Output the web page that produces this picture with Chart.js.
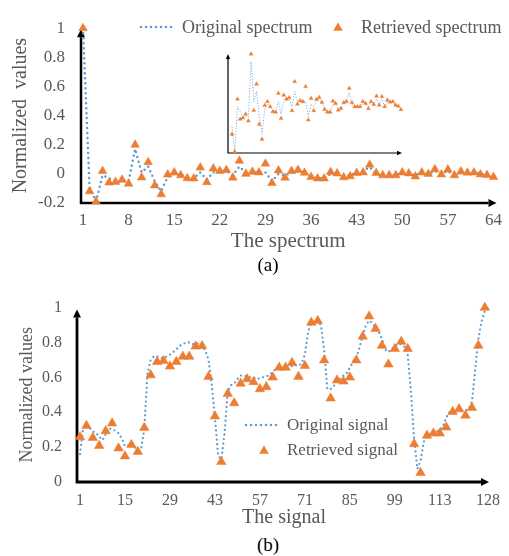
<!DOCTYPE html>
<html>
<head>
<meta charset="utf-8">
<script src="https://cdn.jsdelivr.net/npm/chart.js@4.4.0/dist/chart.umd.min.js"></script>
<style>
  body { margin: 0; background: #fff; }
  #wrap { position: relative; width: 509px; height: 556px; font-family: 'Liberation Serif', 'Times New Roman', serif; }
  canvas { position: absolute; }
  .cap { position: absolute; width: 40px; text-align: center; font-size: 19px; color: #000; line-height: 20px; }
</style>
</head>
<body>
<div id="wrap">
  <canvas id="spec" width="509" height="258" style="left:0;top:0"></canvas>
  <canvas id="inset" width="190" height="115" style="left:222px;top:45px"></canvas>
  <canvas id="sig" width="509" height="252" style="left:0;top:280px"></canvas>
  <div class="cap" style="left:248px;top:255px">(a)</div>
  <div class="cap" style="left:248px;top:535px">(b)</div>
</div>
<script>
// Spectrum (a)
const spectrumOriginal = [1.0, -0.09, -0.19, -0.01, -0.03, -0.05, -0.05, -0.05, 0.17, 0.01,
  0.05, -0.05, -0.12, -0.02, 0.0, -0.01, -0.03, -0.03, 0.01, -0.04,
  0.01, 0.02, 0.02, -0.01, 0.05, 0.01, 0.01, 0.01, 0.01, -0.05,
  0.0, -0.01, 0.01, 0.02, 0.01, -0.02, -0.03, -0.03, 0.0, 0.0,
  -0.02, -0.01, 0.01, 0.02, 0.045, 0.0, -0.01, -0.01, -0.01, 0.01,
  0.0, -0.01, 0.01, 0.0, 0.02, 0.0, 0.02, -0.01, 0.01, 0.01,
  0.01, 0.0, -0.01, -0.02];
const spectrumRetrieved = [1.0, -0.12, -0.19, 0.02, -0.06, -0.055, -0.04, -0.067, 0.2, -0.025,
  0.08, -0.08, -0.14, -0.005, 0.01, -0.01, -0.03, -0.032, 0.043, -0.057,
  0.036, 0.02, 0.026, -0.026, 0.09, 0.0, 0.014, 0.01, 0.07, -0.063,
  0.023, -0.026, 0.019, 0.027, 0.007, -0.021, -0.032, -0.032, 0.012, 0.003,
  -0.024, -0.017, 0.006, 0.01, 0.063, 0.006, -0.01, -0.01, -0.01, 0.01,
  0.003, -0.018, 0.01, -0.001, 0.032, -0.004, 0.03, -0.01, 0.016, 0.008,
  0.01, -0.004, -0.008, -0.022];
const spectrumTicks = ['1', '8', '15', '22', '29', '36', '43', '50', '57', '64'];

// Signal (b)
const signalOriginal = [0.16, 0.31, 0.33, 0.31, 0.29, 0.28, 0.26, 0.24, 0.275, 0.31,
  0.30, 0.295, 0.28, 0.25, 0.205, 0.21, 0.22, 0.20, 0.18, 0.19,
  0.30, 0.62, 0.70, 0.72, 0.72, 0.71, 0.71, 0.72, 0.73, 0.745,
  0.76, 0.78, 0.79, 0.80, 0.80, 0.79, 0.79, 0.795, 0.78, 0.755,
  0.70, 0.56, 0.37, 0.15, 0.13, 0.28, 0.52, 0.555, 0.565, 0.59,
  0.61, 0.61, 0.605, 0.60, 0.60, 0.59, 0.595, 0.60, 0.605, 0.615,
  0.63, 0.65, 0.655, 0.65, 0.652, 0.66, 0.665, 0.67, 0.666, 0.68,
  0.73, 0.86, 0.92, 0.924, 0.92, 0.90, 0.755, 0.533, 0.533, 0.55,
  0.58, 0.59, 0.61, 0.622, 0.655, 0.69, 0.71, 0.77, 0.84, 0.90,
  0.925, 0.91, 0.885, 0.86, 0.82, 0.76, 0.745, 0.76, 0.78, 0.79,
  0.79, 0.775, 0.73, 0.52, 0.25, 0.075, 0.12, 0.23, 0.27, 0.28,
  0.29, 0.29, 0.30, 0.32, 0.37, 0.40, 0.415, 0.415, 0.41, 0.41,
  0.41, 0.42, 0.46, 0.64, 0.82, 0.92, 0.98, 1.0];
// retrieved samples exist at the odd sample numbers 1, 3, 5 ... 127
const signalRetrieved = [0.258, 0.323, 0.254, 0.208, 0.293, 0.337, 0.194, 0.148, 0.213, 0.174,
  0.311, 0.613, 0.689, 0.695, 0.663, 0.689, 0.719, 0.719, 0.778, 0.78,
  0.604, 0.377, 0.116, 0.506, 0.453, 0.565, 0.59, 0.574, 0.533, 0.545,
  0.60, 0.657, 0.657, 0.684, 0.604, 0.666, 0.915, 0.924, 0.698, 0.48,
  0.583, 0.577, 0.60, 0.698, 0.835, 0.95, 0.879, 0.782, 0.675, 0.764,
  0.805, 0.764, 0.218, 0.053, 0.266, 0.279, 0.279, 0.314, 0.403, 0.418,
  0.382, 0.426, 0.782, 1.0];
const signalTicks = ['1', '15', '29', '43', '57', '71', '85', '99', '113', '128'];

const BLUE = '#5B9BD5';
const ORANGE = '#ED7D31';
const GREY = '#595959';
const FONT = "'Liberation Serif', 'Times New Roman', serif";
Chart.defaults.font.family = FONT;
Chart.defaults.color = GREY;

const spectrumLabels = spectrumOriginal.map((v, i) => String(i + 1));
const signalLabels = signalOriginal.map((v, i) => String(i + 1));
const signalRetrievedFull = signalLabels.map((l, i) => (i % 2 === 0 ? signalRetrieved[i / 2] : null));

function triangle(ctx, x, y, r) {
  ctx.beginPath();
  ctx.moveTo(x, y - r);
  ctx.lineTo(x + r * 0.866, y + r * 0.5);
  ctx.lineTo(x - r * 0.866, y + r * 0.5);
  ctx.closePath();
  ctx.fill();
}

// axis lines with arrow heads
function arrowAxes(o) {
  return {
    id: 'arrowAxes',
    beforeDatasetsDraw(chart) {
      const { ctx, chartArea: a } = chart;
      const x0 = a.left - o.dx, y0 = a.bottom + o.dy;
      const top = a.top + o.topOff, right = a.right + o.rightOff;
      ctx.save();
      ctx.strokeStyle = '#000';
      ctx.fillStyle = '#000';
      ctx.lineWidth = o.w;
      ctx.beginPath();
      ctx.moveTo(x0, y0 + o.w / 2);
      ctx.lineTo(x0, top + o.head);
      ctx.moveTo(x0 - o.w / 2, y0);
      ctx.lineTo(right - o.head, y0);
      ctx.stroke();
      ctx.beginPath();
      ctx.moveTo(x0 - o.half, top + o.head);
      ctx.lineTo(x0, top);
      ctx.lineTo(x0 + o.half, top + o.head);
      ctx.closePath();
      ctx.fill();
      ctx.beginPath();
      ctx.moveTo(right - o.head, y0 - o.half);
      ctx.lineTo(right, y0);
      ctx.lineTo(right - o.head, y0 + o.half);
      ctx.closePath();
      ctx.fill();
      ctx.restore();
    }
  };
}

function legendAt(items, size) {
  return {
    id: 'legendAt',
    afterDraw(chart) {
      const ctx = chart.ctx;
      ctx.save();
      ctx.font = size + 'px ' + FONT;
      ctx.textBaseline = 'middle';
      items.forEach(it => {
        if (it.type === 'line') {
          ctx.strokeStyle = BLUE;
          ctx.lineWidth = 2.5;
          ctx.lineCap = 'round';
          ctx.setLineDash([0, 5]);
          ctx.beginPath();
          ctx.moveTo(it.x0, it.y);
          ctx.lineTo(it.x1, it.y);
          ctx.stroke();
          ctx.setLineDash([]);
        } else {
          ctx.fillStyle = ORANGE;
          triangle(ctx, it.x0, it.y + 1, 5.5);
        }
        ctx.fillStyle = GREY;
        ctx.fillText(it.text, it.tx, it.y + 1);
      });
      ctx.restore();
    }
  };
}

function tickCb(list) {
  return function (val) {
    const lab = this.getLabelForValue(val);
    return list.includes(lab) ? lab : '';
  };
}
const numFmt = v => String(parseFloat(v.toFixed(1)) || 0);

// chart (a)
new Chart(document.getElementById('spec'), {
  type: 'line',
  data: {
    labels: spectrumLabels,
    datasets: [{
      label: 'Original spectrum',
      data: spectrumOriginal,
      borderColor: BLUE,
      borderWidth: 2.5,
      borderDash: [0, 5],
      borderCapStyle: 'round',
      pointRadius: 0,
      fill: false,
      clip: false,
      order: 2
    }, {
      label: 'Retrieved spectrum',
      data: spectrumRetrieved,
      showLine: false,
      pointStyle: 'triangle',
      pointRadius: 5,
      backgroundColor: ORANGE,
      borderColor: ORANGE,
      borderWidth: 0.5,
      clip: false,
      order: 1
    }]
  },
  options: {
    responsive: false,
    animation: false,
    layout: { padding: { top: 17, right: 9, left: 0, bottom: 0 } },
    plugins: { legend: { display: false }, tooltip: { enabled: false } },
    scales: {
      x: {
        type: 'category',
        offset: false,
        grid: { display: false, drawTicks: false },
        border: { display: false },
        ticks: { autoSkip: false, maxRotation: 0, minRotation: 0, padding: 7, font: { size: 17 }, callback: tickCb(spectrumTicks) },
        title: { display: true, text: 'The spectrum', font: { size: 21 }, padding: { top: 0, bottom: 4 } },
        afterFit: s => { s.height = 55; }
      },
      y: {
        min: -0.2, max: 1,
        grid: { display: false, drawTicks: false },
        border: { display: false },
        ticks: { stepSize: 0.2, padding: 18, font: { size: 17 }, callback: numFmt },
        title: { display: true, text: 'Normalized  values', font: { size: 20 }, padding: { top: 9, bottom: 0 } },
        afterFit: s => { s.width = 83; }
      }
    }
  },
  plugins: [
    arrowAxes({ dx: 2, dy: 0, topOff: 1, rightOff: 3, w: 2.5, head: 8, half: 4 }),
    legendAt([
      { type: 'line', x0: 141, x1: 176, y: 27, tx: 182, text: 'Original spectrum' },
      { type: 'tri', x0: 338, y: 27, tx: 361, text: 'Retrieved spectrum' }
    ], 18)
  ]
});

// inset of chart (a), samples 2..64
new Chart(document.getElementById('inset'), {
  type: 'line',
  data: {
    labels: spectrumLabels.slice(1),
    datasets: [{
      data: spectrumOriginal.slice(1),
      borderColor: '#7FB0DF',
      borderWidth: 1,
      borderDash: [1.2, 1.6],
      pointRadius: 0,
      fill: false,
      clip: false,
      order: 2
    }, {
      data: spectrumRetrieved.slice(1),
      showLine: false,
      pointStyle: 'triangle',
      pointRadius: 2.4,
      backgroundColor: ORANGE,
      borderColor: ORANGE,
      borderWidth: 0.3,
      clip: false,
      order: 1
    }]
  },
  options: {
    responsive: false,
    animation: false,
    layout: { padding: { top: 9, right: 11, left: 10, bottom: 7 } },
    plugins: { legend: { display: false }, tooltip: { enabled: false } },
    scales: {
      x: { type: 'category', offset: false, display: false },
      y: { min: -0.195, max: 0.2, display: false }
    }
  },
  plugins: [arrowAxes({ dx: 4, dy: 0, topOff: 0, rightOff: 1, w: 1.2, head: 5, half: 2.2 })]
});

// chart (b)
new Chart(document.getElementById('sig'), {
  type: 'line',
  data: {
    labels: signalLabels,
    datasets: [{
      label: 'Original signal',
      data: signalOriginal,
      borderColor: BLUE,
      borderWidth: 2.3,
      borderDash: [0, 4.6],
      borderCapStyle: 'round',
      pointRadius: 0,
      fill: false,
      clip: false,
      order: 2
    }, {
      label: 'Retrieved signal',
      data: signalRetrievedFull,
      showLine: false,
      pointStyle: 'triangle',
      pointRadius: 5.5,
      backgroundColor: ORANGE,
      borderColor: ORANGE,
      borderWidth: 0.5,
      clip: false,
      order: 1
    }]
  },
  options: {
    responsive: false,
    animation: false,
    layout: { padding: { top: 14, right: 15, left: 0, bottom: 0 } },
    plugins: { legend: { display: false }, tooltip: { enabled: false } },
    scales: {
      x: {
        type: 'category',
        offset: false,
        grid: { display: false, drawTicks: false },
        border: { display: false },
        ticks: { autoSkip: false, maxRotation: 0, minRotation: 0, padding: 9, font: { size: 16 }, callback: tickCb(signalTicks) },
        title: { display: true, text: 'The signal', font: { size: 20 }, padding: { top: 0, bottom: 2 } },
        afterFit: s => { s.height = 50; }
      },
      y: {
        min: 0, max: 1,
        grid: { display: false, drawTicks: false },
        border: { display: false },
        ticks: { stepSize: 0.2, padding: 18, font: { size: 16 }, callback: numFmt },
        title: { display: true, text: 'Normalized values', font: { size: 18 }, padding: { top: 16, bottom: 0 } },
        afterFit: s => { s.width = 80; }
      }
    }
  },
  plugins: [
    arrowAxes({ dx: 3, dy: 0, topOff: 2, rightOff: 1, w: 2.8, head: 8, half: 4 }),
    legendAt([
      { type: 'line', x0: 246, x1: 281, y: 145, tx: 287, text: 'Original signal' },
      { type: 'tri', x0: 264, y: 170, tx: 287, text: 'Retrieved signal' }
    ], 17)
  ]
});
</script>
</body>
</html>
